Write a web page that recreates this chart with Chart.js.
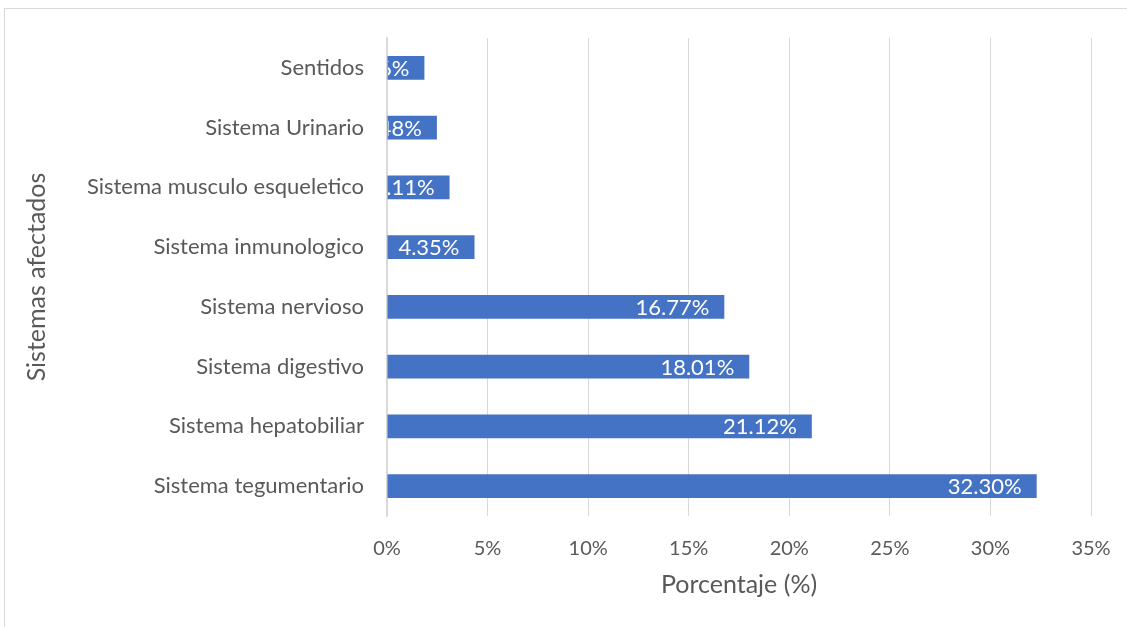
<!DOCTYPE html>
<html>
<head>
<meta charset="utf-8">
<script src="https://cdn.jsdelivr.net/npm/chart.js@4"></script>
<style>
  html, body { margin: 0; padding: 0; background: #fff; overflow: hidden; }
  #wrap { position: relative; width: 1127px; height: 627px; }
  #frame { position: absolute; left: 4px; top: 8px; width: 1200px; height: 700px; border: 1px solid #d9d9d9; }
  canvas { position: absolute; left: 0; top: 0; }
</style>
</head>
<body>
<div id="wrap">
  <div id="frame"></div>
  <canvas id="chart" width="1127" height="627"></canvas>
</div>
<script>
const categories = [
    'Sentidos',
    'Sistema Urinario',
    'Sistema musculo esqueletico',
    'Sistema inmunologico',
    'Sistema nervioso',
    'Sistema digestivo',
    'Sistema hepatobiliar',
    'Sistema tegumentario'
];
const values = [1.86, 2.48, 3.11, 4.35, 16.77, 18.01, 21.12, 32.30];
const xTicks = [0, 5, 10, 15, 20, 25, 30, 35];

const FONT = 'Lato, "Liberation Sans", sans-serif';

// labels sit at the inner end of each bar, clipped to the plot area
const barLabels = {
    id: 'barLabels',
    afterDatasetsDraw(chart) {
        const ctx = chart.ctx;
        const area = chart.chartArea;
        const meta = chart.getDatasetMeta(0);
        ctx.save();
        ctx.beginPath();
        ctx.rect(area.left + 1, area.top, area.right - area.left, area.bottom - area.top);
        ctx.clip();
        ctx.fillStyle = '#ffffff';
        ctx.font = '22px ' + FONT;
        ctx.textAlign = 'right';
        ctx.textBaseline = 'middle';
        meta.data.forEach((bar, i) => {
            ctx.fillText(values[i].toFixed(2) + '%', bar.x - 15, bar.y + 1);
        });
        ctx.restore();
    }
};

const ctx = document.getElementById('chart').getContext('2d');
new Chart(ctx, {
    type: 'bar',
    data: {
        labels: categories,
        datasets: [{
            data: values,
            backgroundColor: '#4472c4',
            barPercentage: 0.4,
            categoryPercentage: 1.0
        }]
    },
    plugins: [barLabels],
    options: {
        indexAxis: 'y',
        responsive: false,
        animation: false,
        layout: { padding: { left: 22, top: 38, right: 36, bottom: 0 } },
        plugins: {
            legend: { display: false },
            tooltip: { enabled: false }
        },
        scales: {
            x: {
                min: 0,
                max: 35,
                afterBuildTicks: axis => { axis.ticks = xTicks.map(v => ({ value: v })); },
                afterFit: scale => {
                    scale.height = 111;
                    scale.paddingLeft = 0;
                    scale.paddingRight = 0;
                },
                grid: { color: '#d9d9d9', drawTicks: false },
                border: { display: false },
                ticks: {
                    padding: 21,
                    color: '#595959',
                    font: { family: FONT, size: 20 },
                    callback: v => v + '%'
                },
                title: {
                    display: true,
                    text: 'Porcentaje (%)',
                    color: '#595959',
                    font: { family: FONT, size: 25 },
                    padding: { top: 0, bottom: 27 }
                }
            },
            y: {
                afterFit: scale => { scale.width = 365; },
                grid: { display: false, drawTicks: false },
                border: { display: true, color: '#d9d9d9', width: 1.5 },
                ticks: {
                    padding: 23,
                    color: '#595959',
                    font: { family: FONT, size: 22 }
                },
                title: {
                    display: true,
                    text: 'Sistemas afectados',
                    color: '#595959',
                    font: { family: FONT, size: 25 },
                    padding: { top: 0, bottom: 0 }
                }
            }
        }
    }
});
</script>
</body>
</html>
